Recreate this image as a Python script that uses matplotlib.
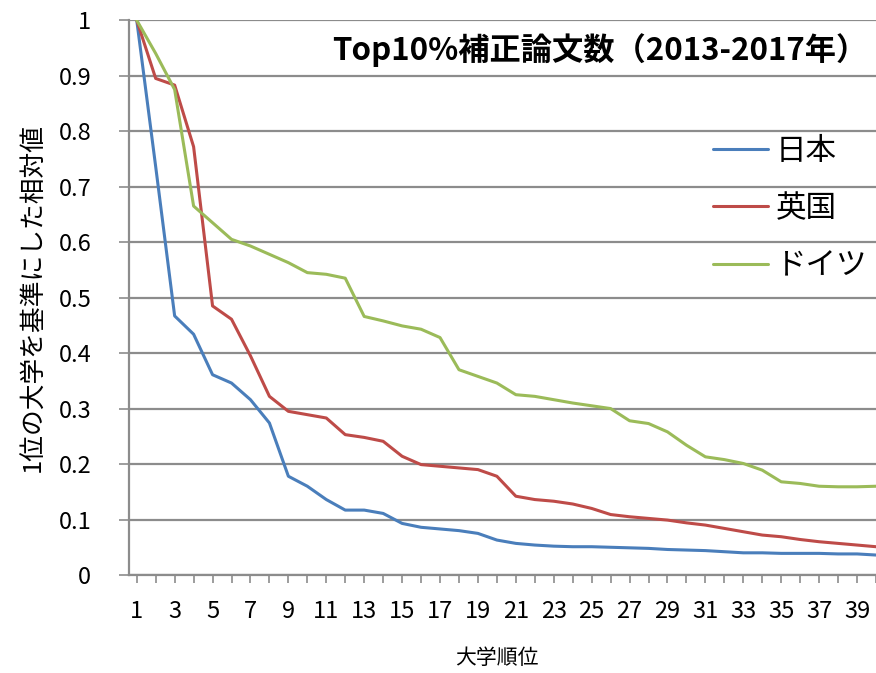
import numpy as np
import matplotlib
matplotlib.use('Agg')
import matplotlib.pyplot as plt
from matplotlib.ticker import FuncFormatter

plt.rcParams['font.family'] = ['Noto Sans CJK JP', 'DejaVu Sans']

# 大学順位 1..40
ranks = list(range(1, 41))

# 日本
japan = [1.0, 0.736, 0.467, 0.434, 0.361, 0.346, 0.316, 0.274, 0.178, 0.160,
         0.136, 0.117, 0.117, 0.111, 0.093, 0.086, 0.083, 0.080, 0.075, 0.063,
         0.057, 0.054, 0.052, 0.051, 0.051, 0.050, 0.049, 0.048, 0.046, 0.045,
         0.044, 0.042, 0.040, 0.040, 0.039, 0.039, 0.039, 0.038, 0.038, 0.036]
# 英国
uk = [1.0, 0.895, 0.883, 0.772, 0.485, 0.461, 0.395, 0.322, 0.295, 0.289,
      0.283, 0.253, 0.248, 0.241, 0.214, 0.199, 0.196, 0.193, 0.190, 0.178,
      0.142, 0.136, 0.133, 0.128, 0.120, 0.109, 0.105, 0.102, 0.099, 0.094,
      0.090, 0.084, 0.078, 0.072, 0.069, 0.064, 0.060, 0.057, 0.054, 0.051]
# ドイツ
germany = [1.0, 0.940, 0.875, 0.665, 0.635, 0.605, 0.593, 0.578, 0.563, 0.545,
           0.542, 0.535, 0.466, 0.458, 0.449, 0.443, 0.428, 0.370, 0.358, 0.346,
           0.325, 0.322, 0.316, 0.310, 0.305, 0.300, 0.278, 0.273, 0.258, 0.234,
           0.213, 0.208, 0.201, 0.189, 0.168, 0.165, 0.160, 0.159, 0.159, 0.160]

series_names = ['日本', '英国', 'ドイツ']
colors = ['#4a7ebb', '#be4b48', '#9bbb59']

title = 'Top10%補正論文数（2013-2017年）'
xlabel = '大学順位'
ylabel = '1位の大学を基準にした相対値'

fig = plt.figure(figsize=(8.76, 6.73), dpi=100)
ax = fig.add_axes([0.147, 0.1456, 0.853, 0.8244])

for vals, name, c in zip([japan, uk, germany], series_names, colors):
    ax.plot(ranks, vals, color=c, linewidth=2.2, label=name, zorder=3,
            solid_joinstyle='round', solid_capstyle='round')

ax.set_xlim(0.58, 39.73)
ax.set_ylim(0, 1)
ax.set_yticks(np.arange(0, 1.01, 0.1))
ax.yaxis.set_major_formatter(FuncFormatter(lambda v, p: '%g' % round(v, 1)))
ax.set_xticks(ranks)
ax.set_xticklabels([str(r) if r % 2 == 1 else '' for r in ranks])

ax.grid(axis='y', color='#8c8c8c', linewidth=1.6, zorder=1)
ax.set_axisbelow(True)
for s in ['top', 'right']:
    ax.spines[s].set_visible(False)
for s in ['left', 'bottom']:
    ax.spines[s].set_color('#8c8c8c')
    ax.spines[s].set_linewidth(1.6)
ax.tick_params(axis='both', color='#8c8c8c', width=1.2, labelsize=17)
ax.tick_params(axis='x', length=6, pad=12)
ax.tick_params(axis='y', length=7, pad=20)

# axis titles placed in figure coords
fig.text(497 / 876, 1 - 658 / 673, xlabel, ha='center', va='center', fontsize=15)
fig.text(34 / 876, 1 - 298 / 673, ylabel, ha='center', va='center',
         rotation=90, fontsize=18.5)

ax.text(0.63, 0.946, title, transform=ax.transAxes, ha='center', va='center',
        fontsize=22.5, fontweight='bold', zorder=5,
        bbox=dict(facecolor='white', edgecolor='none', pad=3))

leg = ax.legend(loc='upper left', bbox_to_anchor=(0.745, 0.841), frameon=False,
                fontsize=22, handlelength=1.8, labelspacing=0.86, handletextpad=0.25)

fig.savefig('out.png', dpi=100)
